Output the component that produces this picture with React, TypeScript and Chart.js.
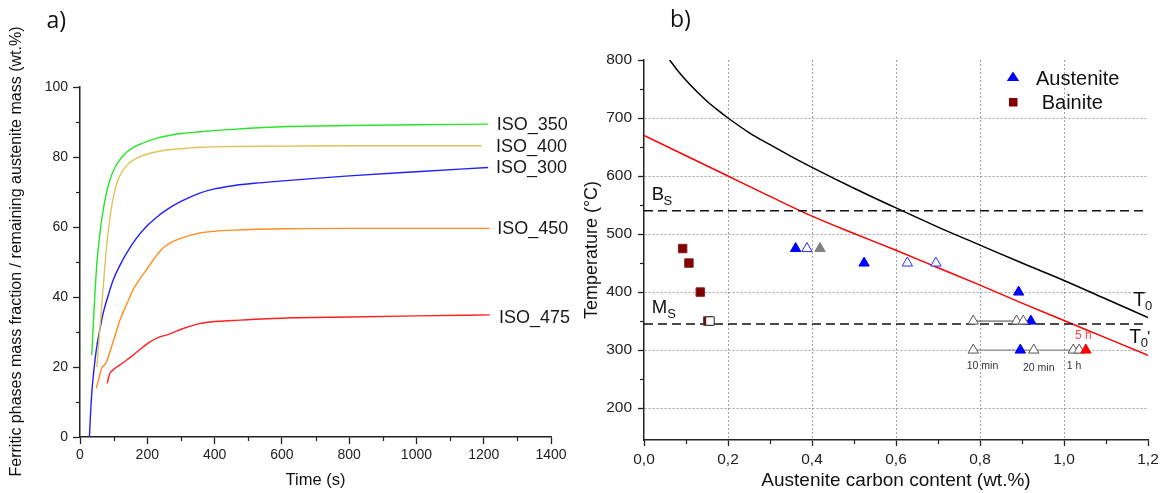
import React, { useEffect, useRef } from 'react';
import { Chart, registerables } from 'chart.js';

Chart.register(...registerables);

const FONT = "'Liberation Sans', Arial, sans-serif";
const PANEL_FONT = "'Open Sans', 'Liberation Sans', sans-serif";

// ---------- Panel a) ----------
const timeTicks = [0, 200, 400, 600, 800, 1000, 1200, 1400];
const timeMinorTicks = [100, 300, 500, 700, 900, 1100, 1300];
const fractionTicks = [0, 20, 40, 60, 80, 100];
const fractionMinorTicks = [10, 30, 50, 70, 90];

const iso350Time = [35, 40, 45, 51, 60, 69, 80, 90, 99, 110, 125, 140, 158, 180, 198, 230, 257, 300, 356, 455, 614, 800, 1000, 1213];
const iso350Frac = [23.4, 33, 42, 50.6, 58.8, 64.9, 70.3, 73.8, 76.0, 78.0, 80.0, 81.5, 82.7, 83.7, 84.4, 85.4, 86.0, 86.7, 87.2, 87.9, 88.7, 89.0, 89.2, 89.4];

const iso400Time = [50, 55, 60, 65, 70, 75, 80, 87, 94, 101, 109, 120, 139, 158, 178, 217, 257, 317, 356, 455, 614, 800, 1000, 1194];
const iso400Frac = [20, 26, 32, 38, 44, 50, 55.5, 61, 65.8, 69.4, 72.3, 75, 77.6, 79.1, 80.1, 81.3, 82.0, 82.5, 82.8, 83.0, 83.1, 83.2, 83.2, 83.2];

const iso300Time = [28, 31, 35, 42, 50, 60, 69, 84, 99, 119, 139, 168, 198, 228, 257, 300, 356, 400, 455, 520, 594, 700, 800, 1000, 1213];
const iso300Frac = [0, 6, 12.5, 19.8, 25.9, 31.2, 35.4, 40.5, 44.9, 49.1, 52.6, 56.8, 60.2, 62.8, 64.9, 67.3, 69.7, 70.9, 71.8, 72.5, 73.1, 73.9, 74.6, 75.8, 77.0];

const iso450Time = [48, 55, 64, 72, 79, 94, 106, 119, 139, 158, 178, 198, 217, 237, 257, 277, 317, 356, 400, 455, 614, 800, 1000, 1218];
const iso450Frac = [13.9, 16.3, 19.6, 20.5, 21.5, 25.9, 29.5, 33.5, 38, 42.1, 45.2, 47.8, 50.5, 53, 54.8, 55.9, 57.3, 58.3, 58.8, 59.1, 59.5, 59.6, 59.6, 59.6];

const iso475Time = [81, 85, 89, 99, 109, 119, 139, 158, 178, 208, 237, 257, 307, 356, 400, 455, 614, 800, 1000, 1218];
const iso475Frac = [15.3, 17, 18.2, 19.2, 20, 20.6, 22, 23.4, 25, 27.2, 28.6, 29.1, 31, 32.4, 33, 33.3, 34, 34.3, 34.6, 34.9];

const seriesNames = ['ISO_350', 'ISO_400', 'ISO_300', 'ISO_450', 'ISO_475'];

// ---------- Panel b) ----------
const carbonTicks = [0, 0.2, 0.4, 0.6, 0.8, 1.0, 1.2];
const carbonMinorTicks = [0.1, 0.3, 0.5, 0.7, 0.9, 1.1];
const tempTicks = [200, 300, 400, 500, 600, 700, 800];
const tempMinorTicks = [250, 350, 450, 550, 650, 750];

const t0Carbon = [0.061, 0.08, 0.1, 0.125, 0.15, 0.175, 0.2, 0.25, 0.3, 0.35, 0.4, 0.5, 0.6, 0.7, 0.8, 0.9, 1.0, 1.1, 1.2];
const t0Temp = [800, 782, 765, 746, 729, 714, 700, 675, 654, 634, 615, 579, 545, 512, 481, 450, 420, 388, 356];

const t0pCarbon = [0, 0.1, 0.2, 0.3, 0.4, 0.5, 0.6, 0.7, 0.8, 0.9, 1.0, 1.1, 1.2];
const t0pTemp = [670, 635, 600, 565, 531, 501, 472, 442, 412, 381, 351, 321, 291];

const bsTemp = 540;
const msTemp = 345;

const austFilledC = [0.361, 0.524, 0.892, 0.921, 0.896];
const austFilledT = [475, 450, 400, 350, 300];
const austOpenC = [0.388, 0.627, 0.695];
const austOpenT = [475, 450, 450];
const austGrayC = [0.419];
const austGrayT = [475];
const austTimedC = [0.784, 0.887, 0.903, 0.784, 0.928, 1.022, 1.036];
const austTimedT = [350, 350, 350, 300, 300, 300, 300];
const austFinalC = [1.052];
const austFinalT = [300];
const bainiteC = [0.092, 0.107, 0.134, 0.152];
const bainiteT = [475, 450, 400, 350];
const bainiteOpenC = [0.157];
const bainiteOpenT = [350];
const path350C = [0.784, 0.887];
const path350T = [350, 350];
const path300C = [0.784, 1.022];
const path300T = [300, 300];

const zip = (xs: number[], ys: number[]) => xs.map((x, i) => ({ x, y: ys[i] }));

const LEFT_W = 580;
const RIGHT_X = 570;
const RIGHT_W = 1163 - RIGHT_X;
const H = 493;

function txt(ctx: CanvasRenderingContext2D, s: string, x: number, y: number, size: number, color = '#111', align: CanvasTextAlign = 'left', baseline: CanvasTextBaseline = 'alphabetic', family = FONT) {
  ctx.font = `${size}px ${family}`;
  ctx.fillStyle = color;
  ctx.textAlign = align;
  ctx.textBaseline = baseline;
  ctx.fillText(s, x, y);
}

const leftDecor = {
  id: 'leftDecor',
  afterDraw(chart: any) {
    const { ctx, chartArea, scales } = chart;
    const x = scales.x;
    const y = scales.y;
    ctx.save();
    ctx.strokeStyle = '#222';
    ctx.lineWidth = 1.2;
    for (const v of timeMinorTicks) {
      const px = Math.round(x.getPixelForValue(v)) + 0.5;
      ctx.beginPath();
      ctx.moveTo(px, chartArea.bottom);
      ctx.lineTo(px, chartArea.bottom + 4);
      ctx.stroke();
    }
    for (const v of fractionMinorTicks) {
      const py = Math.round(y.getPixelForValue(v)) + 0.5;
      ctx.beginPath();
      ctx.moveTo(chartArea.left, py);
      ctx.lineTo(chartArea.left - 4, py);
      ctx.stroke();
    }
    const baselines = [130, 152.3, 173.3, 234.3, 322.7];
    const starts = [496.7, 496, 496, 497.3, 499];
    seriesNames.forEach((n, i) => txt(ctx, n, starts[i], baselines[i], 18, '#1a1a1a'));
    txt(ctx, 'Time (s)', (chartArea.left + chartArea.right) / 2, 480, 16.5, '#111', 'center', 'middle');
    ctx.save();
    ctx.translate(16.5, 251.5);
    ctx.rotate(-Math.PI / 2);
    txt(ctx, 'Ferritic phases mass fraction / remaining austenite mass (wt.%)', 0, 0, 16, '#111', 'center', 'middle');
    ctx.restore();
    txt(ctx, 'a)', 46.5, 28, 23, '#111', 'left', 'alphabetic', PANEL_FONT);
    ctx.restore();
  },
};

const rightDecor = {
  id: 'rightDecor',
  afterDraw(chart: any) {
    const { ctx, chartArea, scales } = chart;
    const x = scales.x;
    const y = scales.y;
    const o = RIGHT_X;
    ctx.save();
    ctx.strokeStyle = '#222';
    ctx.lineWidth = 1.2;
    for (const v of carbonMinorTicks) {
      const px = Math.round(x.getPixelForValue(v)) + 0.5;
      ctx.beginPath();
      ctx.moveTo(px, chartArea.bottom);
      ctx.lineTo(px, chartArea.bottom + 4);
      ctx.stroke();
    }
    for (const v of tempMinorTicks) {
      const py = Math.round(y.getPixelForValue(v)) + 0.5;
      ctx.beginPath();
      ctx.moveTo(chartArea.left, py);
      ctx.lineTo(chartArea.left - 4, py);
      ctx.stroke();
    }
    // B_S / M_S
    txt(ctx, 'B', 651.7 - o, 200, 18.5);
    txt(ctx, 'S', 663.5 - o, 205, 13);
    txt(ctx, 'M', 651.7 - o, 313.3, 18.5);
    txt(ctx, 'S', 667.3 - o, 318, 13);
    // T0 / T0'
    txt(ctx, 'T', 1133.3 - o, 306, 19.5);
    txt(ctx, '0', 1145 - o, 310, 13);
    txt(ctx, 'T', 1129.3 - o, 343.3, 19.5);
    txt(ctx, '0', 1140.7 - o, 346.7, 13);
    txt(ctx, "'", 1147.3 - o, 343, 16);
    // time annotations
    txt(ctx, '10 min', 966.7 - o, 369, 10.5, '#333');
    txt(ctx, '20 min', 1023 - o, 370.7, 10.5, '#333');
    txt(ctx, '1 h', 1066.7 - o, 369.3, 10.5, '#333');
    txt(ctx, '5 h', 1075 - o, 339.3, 12, '#ff4a4a');
    // legend
    ctx.fillStyle = '#0000ff';
    ctx.beginPath();
    ctx.moveTo(1013 - o, 71.5);
    ctx.lineTo(1019.2 - o, 81);
    ctx.lineTo(1006.8 - o, 81);
    ctx.closePath();
    ctx.fill();
    ctx.fillStyle = '#800000';
    ctx.fillRect(1009 - o, 98, 8.5, 8.5);
    txt(ctx, 'Austenite', 1036 - o, 85, 20, '#111');
    txt(ctx, 'Bainite', 1041.7 - o, 109.3, 20, '#111');
    // titles
    txt(ctx, 'Austenite carbon content (wt.%)', (chartArea.left + chartArea.right) / 2, 481, 19, '#111', 'center', 'middle');
    ctx.save();
    ctx.translate(592 - o, (chartArea.top + chartArea.bottom) / 2);
    ctx.rotate(-Math.PI / 2);
    txt(ctx, 'Temperature (°C)', 0, 0, 18, '#111', 'center', 'middle');
    ctx.restore();
    txt(ctx, 'b)', 670 - o, 27, 23, '#111', 'left', 'alphabetic', PANEL_FONT);
    ctx.restore();
  },
};

const lineDs = (data: any, color: string, width = 1.4, extra: any = {}) => ({
  data,
  showLine: true,
  borderColor: color,
  backgroundColor: color,
  borderWidth: width,
  pointRadius: 0,
  cubicInterpolationMode: 'monotone',
  ...extra,
});

const markerDs = (data: any, style: string, bg: string, border: string, order: number, radius = 6) => ({
  data,
  showLine: false,
  pointStyle: style,
  pointRadius: radius,
  pointBackgroundColor: bg,
  pointBorderColor: border,
  pointBorderWidth: 1,
  order,
});

export default function App() {
  const leftRef = useRef<HTMLCanvasElement>(null);
  const rightRef = useRef<HTMLCanvasElement>(null);

  useEffect(() => {
    const tickFont = (size: number) => ({ family: FONT, size });
    const left = new Chart(leftRef.current as HTMLCanvasElement, {
      type: 'scatter',
      data: {
        datasets: [
          lineDs(zip(iso350Time, iso350Frac), '#25e625'),
          lineDs(zip(iso400Time, iso400Frac), '#e0c256'),
          lineDs(zip(iso300Time, iso300Frac), '#2020ff'),
          lineDs(zip(iso450Time, iso450Frac), '#ff8c1f'),
          lineDs(zip(iso475Time, iso475Frac), '#ff1f1f'),
        ] as any,
      },
      options: {
        animation: false,
        responsive: false,
        events: [],
        layout: { padding: { left: 0, right: LEFT_W - 551, top: 87, bottom: 0 } },
        plugins: { legend: { display: false }, tooltip: { enabled: false } },
        scales: {
          x: {
            type: 'linear',
            min: 0,
            max: 1400,
            afterBuildTicks: (s: any) => { s.ticks = timeTicks.map((v) => ({ value: v })); },
            afterFit: (s: any) => { s.height = H - 437; },
            grid: { drawOnChartArea: false, drawTicks: true, tickLength: 7, tickColor: '#222', tickWidth: 1.3 },
            border: { display: true, color: '#222', width: 1.5 },
            ticks: { font: tickFont(14), color: '#222', padding: 3, maxRotation: 0, autoSkip: false, callback: (v: any) => String(v) },
          },
          y: {
            type: 'linear',
            min: 0,
            max: 100,
            afterBuildTicks: (s: any) => { s.ticks = fractionTicks.map((v) => ({ value: v })); },
            afterFit: (s: any) => { s.width = 80; },
            grid: { drawOnChartArea: false, drawTicks: true, tickLength: 7, tickColor: '#222', tickWidth: 1.3 },
            border: { display: true, color: '#222', width: 1.5 },
            ticks: { font: tickFont(14), color: '#222', padding: 5, autoSkip: false, callback: (v: any) => String(v) },
          },
        },
      } as any,
      plugins: [leftDecor],
    });

    const gridC = '#a3a3a3';
    const right = new Chart(rightRef.current as HTMLCanvasElement, {
      type: 'scatter',
      data: {
        datasets: [
          markerDs(zip(austFinalC, austFinalT), 'triangle', '#ff0000', '#ff0000', 0),
          markerDs(zip(austTimedC, austTimedT), 'triangle', '#ffffff', '#555555', 1),
          markerDs(zip(bainiteOpenC, bainiteOpenT), 'rect', '#ffffff', '#222222', 1),
          markerDs(zip(austFilledC, austFilledT), 'triangle', '#0000ff', '#0000ff', 2),
          markerDs(zip(austGrayC, austGrayT), 'triangle', '#808080', '#808080', 2),
          markerDs(zip(austOpenC, austOpenT), 'triangle', '#ffffff', '#2a2aff', 2),
          markerDs(zip(bainiteC, bainiteT), 'rect', '#800000', '#8b2020', 2),
          lineDs(zip(path350C, path350T), '#444444', 1, { order: 5, cubicInterpolationMode: 'default' }),
          lineDs(zip(path300C, path300T), '#777777', 1, { order: 5, cubicInterpolationMode: 'default' }),
          lineDs(zip([0, 1.2], [bsTemp, bsTemp]), '#111111', 1.5, { order: 6, borderDash: [9, 5], cubicInterpolationMode: 'default' }),
          lineDs(zip([0, 1.2], [msTemp, msTemp]), '#111111', 1.5, { order: 6, borderDash: [9, 5], cubicInterpolationMode: 'default' }),
          lineDs(zip(t0Carbon, t0Temp), '#000000', 1.5, { order: 6 }),
          lineDs(zip(t0pCarbon, t0pTemp), '#ff0000', 1.5, { order: 6 }),
        ] as any,
      },
      options: {
        animation: false,
        responsive: false,
        events: [],
        layout: { padding: { left: 0, right: RIGHT_W - (1148 - RIGHT_X), top: 60, bottom: 0 } },
        plugins: { legend: { display: false }, tooltip: { enabled: false } },
        scales: {
          x: {
            type: 'linear',
            min: 0,
            max: 1.2,
            afterBuildTicks: (s: any) => { s.ticks = carbonTicks.map((v) => ({ value: v })); },
            afterFit: (s: any) => { s.height = H - 440; },
            grid: {
              drawOnChartArea: true,
              drawTicks: true,
              tickLength: 6,
              tickColor: '#222',
              tickWidth: 1.3,
              lineWidth: 1,
              color: (c: any) => (c.tick && c.tick.value > 0.05 && c.tick.value < 1.15 ? gridC : 'rgba(0,0,0,0)'),
            },
            border: { display: true, color: '#222', width: 1.5, dash: [2, 2] },
            ticks: {
              font: tickFont(15.5),
              color: '#222',
              padding: 4,
              maxRotation: 0,
              autoSkip: false,
              callback: (v: any) => Number(v).toFixed(1).replace('.', ','),
            },
          },
          y: {
            type: 'linear',
            min: 145,
            max: 800,
            afterBuildTicks: (s: any) => { s.ticks = tempTicks.map((v) => ({ value: v })); },
            afterFit: (s: any) => { s.width = 644 - RIGHT_X; },
            grid: {
              drawOnChartArea: true,
              drawTicks: true,
              tickLength: 6,
              tickColor: '#222',
              tickWidth: 1.3,
              lineWidth: 1,
              color: (c: any) => (c.tick && c.tick.value < 790 ? gridC : 'rgba(0,0,0,0)'),
            },
            border: { display: true, color: '#222', width: 1.5, dash: [2, 2] },
            ticks: { font: tickFont(15.5), color: '#222', padding: 6, autoSkip: false, callback: (v: any) => String(v) },
          },
        },
      } as any,
      plugins: [rightDecor],
    });

    return () => {
      left.destroy();
      right.destroy();
    };
  }, []);

  return (
    <div style={{ position: 'fixed', left: 0, top: 0, width: 1163, height: H, background: '#fff', overflow: 'hidden' }}>
      <canvas ref={leftRef} width={LEFT_W} height={H} style={{ position: 'absolute', left: 0, top: 0, width: LEFT_W, height: H }} />
      <canvas ref={rightRef} width={RIGHT_W} height={H} style={{ position: 'absolute', left: RIGHT_X, top: 0, width: RIGHT_W, height: H }} />
    </div>
  );
}
